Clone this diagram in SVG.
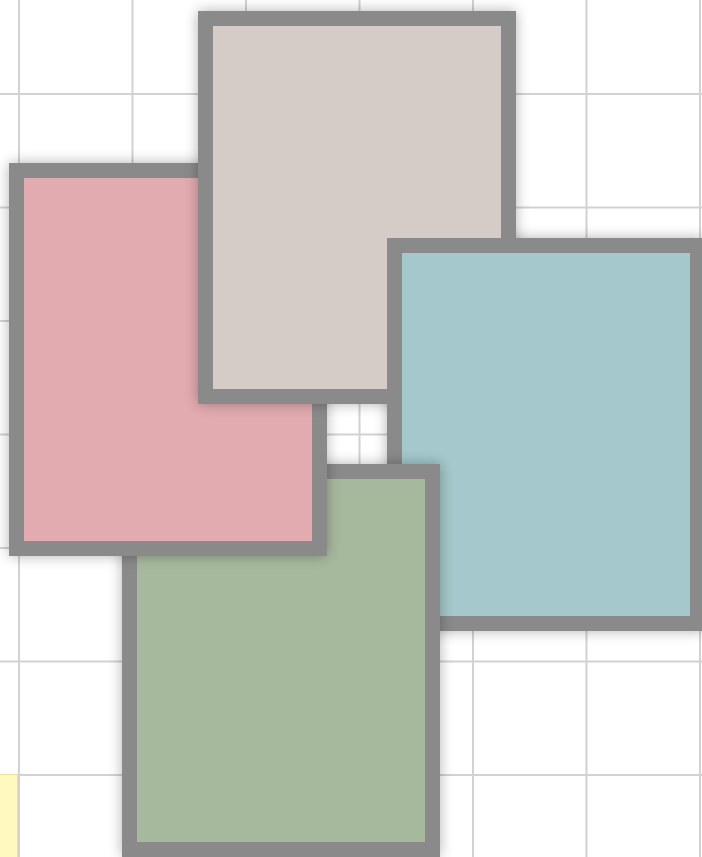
<svg xmlns="http://www.w3.org/2000/svg" width="702" height="857" viewBox="0 0 702 857">
<style>
.grid line{stroke:#d2d2d2;stroke-width:2}
.box{stroke:#8a8a8a;stroke-width:15}
.shadow{fill:#000;opacity:0.3;filter:url(#blur)}
</style>
<defs>
<filter id="blur" x="-20%" y="-20%" width="140%" height="140%">
<feGaussianBlur stdDeviation="7"/>
</filter>
<clipPath id="overlap"><rect x="380" y="220" width="170" height="215"/></clipPath>
<rect id="tealRect" class="box" x="394.5" y="245.5" width="303" height="378" fill="#a4c8cb"/>
</defs>
<rect width="702" height="857" fill="#ffffff"/>
<g class="grid">
<line x1="19" y1="0" x2="19" y2="857"/>
<line x1="132.5" y1="0" x2="132.5" y2="857"/>
<line x1="246" y1="0" x2="246" y2="857"/>
<line x1="359.5" y1="0" x2="359.5" y2="857"/>
<line x1="473" y1="0" x2="473" y2="857"/>
<line x1="586.5" y1="0" x2="586.5" y2="857"/>
<line x1="700" y1="0" x2="700" y2="857"/>
<line x1="0" y1="94" x2="702" y2="94"/>
<line x1="0" y1="207.5" x2="702" y2="207.5"/>
<line x1="0" y1="321" x2="702" y2="321"/>
<line x1="0" y1="434.5" x2="702" y2="434.5"/>
<line x1="0" y1="548" x2="702" y2="548"/>
<line x1="0" y1="661.5" x2="702" y2="661.5"/>
<line x1="0" y1="775" x2="702" y2="775"/>
</g>
<g id="note">
<rect x="-2" y="774.5" width="19.5" height="90" fill="#fff9bf" stroke="#ebe09a" stroke-width="1"/>
</g>
<g id="teal">
<rect class="shadow" x="387" y="238" width="318" height="393"/>
<use href="#tealRect"/>
</g>
<g id="green">
<rect class="shadow" x="122" y="464" width="318" height="393"/>
<rect class="box" x="129.5" y="471.5" width="303" height="378" fill="#a7b99d"/>
</g>
<g id="pink">
<rect class="shadow" x="9" y="163" width="318" height="393"/>
<rect class="box" x="16.5" y="170.5" width="303" height="378" fill="#e2abb0"/>
</g>
<g id="gray">
<rect class="shadow" x="198" y="11" width="318" height="393"/>
<rect class="box" x="205.5" y="18.5" width="303" height="378" fill="#d5ccc8"/>
</g>
<g id="teal-over" clip-path="url(#overlap)">
<use href="#tealRect"/>
</g>
</svg>
